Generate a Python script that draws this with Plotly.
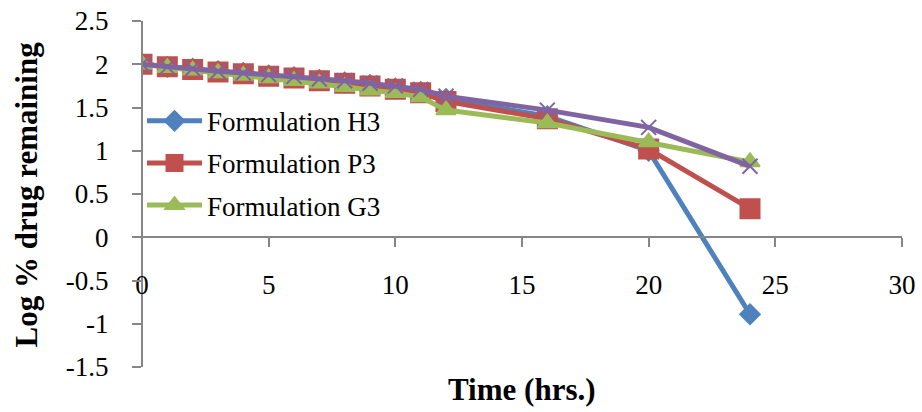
import plotly.graph_objects as go

time_hrs = [0, 1, 2, 3, 4, 5, 6, 7, 8, 9, 10, 11, 12, 16, 20, 24]
h3 = [2.00, 1.97, 1.95, 1.92, 1.90, 1.87, 1.85, 1.82, 1.79, 1.76, 1.72, 1.68, 1.60, 1.40, 1.00, -0.89]
p3 = [2.00, 1.97, 1.94, 1.91, 1.89, 1.86, 1.84, 1.81, 1.78, 1.75, 1.71, 1.67, 1.57, 1.37, 1.02, 0.33]
g3 = [2.00, 1.96, 1.93, 1.90, 1.87, 1.84, 1.81, 1.78, 1.74, 1.70, 1.67, 1.62, 1.47, 1.32, 1.10, 0.87]
s4 = [2.00, 1.97, 1.95, 1.92, 1.90, 1.88, 1.86, 1.83, 1.81, 1.78, 1.75, 1.71, 1.63, 1.47, 1.27, 0.82]

x_ticks = [0, 5, 10, 15, 20, 25, 30]
y_ticks = [-1.5, -1, -0.5, 0, 0.5, 1, 1.5, 2, 2.5]
y_tick_text = ["-1.5", "-1", "-0.5", "0", "0.5", "1", "1.5", "2", "2.5"]

FONT = "Liberation Serif, Times New Roman, serif"
AX = "#868686"

fig = go.Figure()
series = [
    ("Formulation H3", h3, "#4F81BD", "diamond", 15, True),
    ("Formulation P3", p3, "#C0504D", "square", 19, True),
    ("Formulation G3", g3, "#9BBB59", "triangle-up", 17, True),
    ("Formulation 4", s4, "#8064A2", "x-thin", 15, False),
]
for i, (name, vals, col, sym, sz, show) in enumerate(series):
    fig.add_trace(go.Scatter(
        x=time_hrs, y=vals, name=name, mode="lines+markers",
        line=dict(color=col, width=5),
        marker=dict(symbol=sym, size=sz, color=col,
                    line=dict(color=col, width=2)),
        showlegend=show, legendgroup=f"g{i}",
    ))

fig.update_layout(
    width=922, height=412,
    margin=dict(l=141.5, r=20.3, t=20.7, b=45, autoexpand=False),
    paper_bgcolor="white", plot_bgcolor="white",
    font=dict(family=FONT, size=27, color="black"),
    showlegend=True,
    legend=dict(x=0.0, y=0.781, xanchor="left", yanchor="top",
                bgcolor="rgba(255,255,255,0)", font=dict(size=27),
                tracegroupgap=4, itemwidth=55),
    xaxis=dict(range=[0, 30], tickvals=x_ticks, showgrid=False, zeroline=False,
               showline=True, linecolor=AX, linewidth=2, automargin=False,
               ticks="outside", ticklen=9, tickwidth=2, tickcolor=AX,
               anchor="free", position=0.375, ticklabelstandoff=14),
    yaxis=dict(range=[-1.5, 2.5], tickvals=y_ticks, ticktext=y_tick_text,
               showgrid=False, zeroline=False, automargin=False,
               showline=True, linecolor=AX, linewidth=2,
               ticks="outside", ticklen=9, tickwidth=2, tickcolor=AX,
               anchor="free", position=0, ticklabelstandoff=18),
    annotations=[
        dict(text="<b>Time (hrs.)</b>", xref="paper", yref="paper",
             x=0.5, y=-0.066, xanchor="center", yanchor="middle",
             showarrow=False, font=dict(size=31)),
        dict(text="<b>Log % drug remaining</b>", xref="paper", yref="paper",
             x=-0.152, y=0.5, xanchor="center", yanchor="middle",
             textangle=-90, showarrow=False, font=dict(size=31)),
    ],
)

fig.write_html("out.html",
               config={"displayModeBar": False},
               post_script="document.body.style.margin='0';document.body.style.overflow='hidden';")
